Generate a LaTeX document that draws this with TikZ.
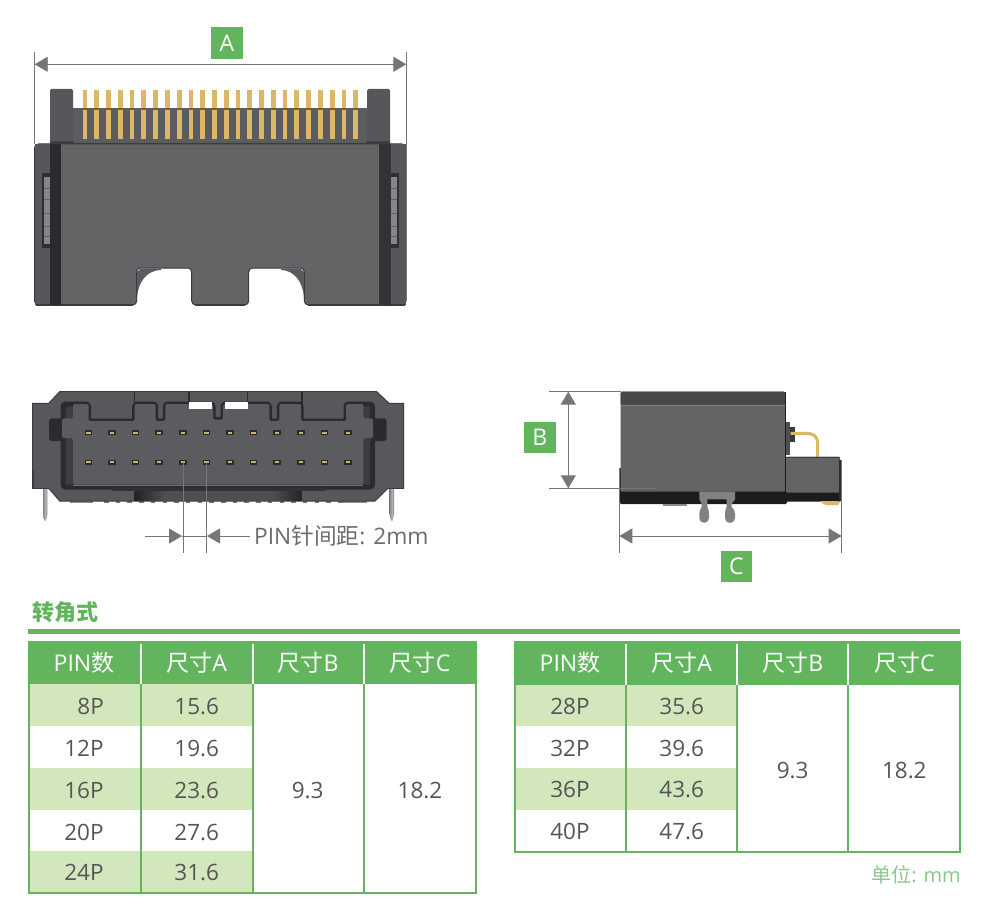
\documentclass[tikz,border=0pt]{standalone}
\usepackage{fontspec}
\usetikzlibrary{arrows.meta}
\setmainfont{Open Sans}
\newfontfamily\cj{Noto Sans CJK SC}
\definecolor{gr}{HTML}{62B55D}
\definecolor{lgr}{HTML}{D3E7BC}
\definecolor{txt}{HTML}{555555}
\definecolor{dimc}{HTML}{767676}
\definecolor{gold}{HTML}{DDB768}
\definecolor{bodyc}{HTML}{626466}
\definecolor{sidec}{HTML}{56575A}
\definecolor{frontc}{HTML}{57585B}
\definecolor{floorc}{HTML}{5A5C5F}
\definecolor{darkc}{HTML}{2A2B2D}
\definecolor{edgec}{HTML}{3A3B3D}
\definecolor{blackc}{HTML}{1C1C1D}
\definecolor{cbrown}{HTML}{7A5F28}
\definecolor{cnotch}{HTML}{5A5B5E}
\definecolor{cstripeL}{HTML}{2B2B2D}
\definecolor{cstripeR}{HTML}{333335}
\definecolor{cframe}{HTML}{2E2F31}
\definecolor{cwin}{HTML}{85868A}
\definecolor{cwinl}{HTML}{606164}
\definecolor{cleg}{HTML}{808183}
\definecolor{clegm}{HTML}{B4B5B7}
\definecolor{cclipl}{HTML}{8A8B8D}
\definecolor{ctick}{HTML}{77787A}
\definecolor{cpad}{HTML}{2C2A26}
\definecolor{cpadin}{HTML}{C8B078}
\definecolor{cstrip}{HTML}{3C3D40}
\definecolor{cfloorl}{HTML}{707174}
\definecolor{cband}{HTML}{303133}
\definecolor{ctwo}{HTML}{222324}
\definecolor{cfour}{HTML}{4E4F52}
\definecolor{ctext}{HTML}{6C6C6C}
\definecolor{cthree}{HTML}{3A3A3C}
\definecolor{cfourseven}{HTML}{47484A}
\definecolor{cseven}{HTML}{7F8082}
\definecolor{cthreee}{HTML}{3E3F41}
\definecolor{ceight}{HTML}{808183}
\definecolor{cunit}{HTML}{8CC68A}
\tikzset{
  dimline/.style={draw=dimc,line width=0.9pt},
  dimboth/.style={dimline,{Triangle[length=13pt,width=15pt,color=dimc]}-{Triangle[length=13pt,width=15pt,color=dimc]}},
  dimto/.style={dimline,-{Triangle[length=13pt,width=15pt,color=dimc]}},
  tagbox/.style={fill=gr,text=white,minimum width=31.5pt,minimum height=31.5pt,inner sep=0pt,font=\fontsize{23}{24}\selectfont},
  cell/.style={anchor=base,inner sep=0pt,text=txt,font=\fontsize{22.5}{24}\selectfont},
  headcell/.style={anchor=base,inner sep=0pt,text=white,font=\fontsize{23}{24}\selectfont},
  tline/.style={draw=gr,line width=2pt},
}
\begin{document}
\begin{tikzpicture}[x=1pt,y=-1pt]
\useasboundingbox (0,0) rectangle (981,917);
% ------------------- top view
\fill[sidec,rounded corners=1.5pt] (50,144) -- (50,89) -- (73,89) -- (73,146) -- cycle;
\fill[sidec,rounded corners=1.5pt] (367,146) -- (367,89) -- (390,89) -- (390,144) -- cycle;
\fill[floorc] (73,108.5) rectangle (367,144);
\fill[edgec] (50,141.5) -- (73,141.5) -- (76,144) -- (50,144) -- cycle;
\fill[edgec] (390,141.5) -- (367,141.5) -- (364,144) -- (390,144) -- cycle;
\foreach \i in {0,...,23}{
  \pgfmathsetmacro\px{82.6+11.77*\i}
  \fill[gold] (\px,90.5) rectangle ++(4.8,48.5);
  \fill[cbrown] (\px,108) rectangle ++(4.8,2.2);
}
\fill[edgec] (73,142.6) rectangle (367,144);
\path[fill=bodyc,draw=edgec,line width=1pt,rounded corners=4pt]
  (34.5,144) -- (406,144) -- (406,305) -- (304.3,305) -- (304.3,268) -- (248.7,268) -- (248.7,305)
  -- (191.7,305) -- (191.7,268) -- (136.7,268) -- (136.7,305) -- (34.5,305) -- cycle;
\fill[sidec] (35,144.5) rectangle (50,304.5);
\fill[sidec] (391,144.5) rectangle (405.5,304.5);
\fill[cnotch] (137.2,297) .. controls (138,281) and (148,270) .. (161,270) -- (161,268.5) -- (141,268.5) -- (137.2,272) -- cycle;
\fill[cnotch] (303.8,297) .. controls (303,281) and (293,270) .. (281,270) -- (281,268.5) -- (300,268.5) -- (303.8,272) -- cycle;
\draw[edgec,line width=1.2pt] (36,305) -- (133,305) (195,305) -- (245,305) (308,305) -- (405,305);
\fill[cstripeL] (50,144) rectangle (61.3,305.4);
\fill[cstripeR] (379.3,144) rectangle (390.7,305.4);
\fill[cframe] (41.7,172.7) rectangle (50,248);
\fill[cframe] (390.7,172.7) rectangle (399.3,248);
\fill[cwin] (44.3,177) rectangle (50,244);
\fill[cwin] (391,177) rectangle (396.8,244);
\foreach \wy in {188,199,213,226,236}{
  \fill[cwinl] (44.3,\wy) rectangle (50,\wy+1);
  \fill[cwinl] (391,\wy) rectangle (396.8,\wy+1);
}
% dimension A
\coordinate (aL) at (34.7,64.3); \coordinate (aR) at (406.3,64.3);
\coordinate (aLt) at (34.7,52); \coordinate (aLb) at (34.7,144);
\coordinate (aRt) at (406.3,52); \coordinate (aRb) at (406.3,177);
\draw[dimline] (aLt) -- (aLb);
\draw[dimline] (aRt) -- (aRb);
\draw[dimboth] (aL) -- (aR);
\node[tagbox] (tagA) at (226.9,43.2) {A};
% ------------------- front view
\foreach \lx/\lw in {43/4.4,389.6/4.4}{
  \shade[left color=cleg,right color=cleg,middle color=clegm] (\lx,488) -- (\lx,514) -- (\lx+\lw/2-0.9,520.5) -- (\lx+\lw/2+0.9,520.5) -- (\lx+\lw,514) -- (\lx+\lw,488) -- cycle;
}
\fill[cclipl] (69.7,500) rectangle (93,503);
\fill[cclipl] (343,500) rectangle (367,503);
\foreach \i in {0,...,20}{
  \fill[ctick] (104+11.7*\i,500) rectangle ++(4.5,2.6);
}
\path[fill=frontc,draw=edgec,line width=1pt]
  (32.5,403.3) -- (48.7,403.3) -- (59.7,391.7) -- (376.7,391.7) -- (389,403.3) -- (403.5,403.3)
  -- (403.5,488.3) -- (388,488.3) -- (375,501) -- (59.7,501) -- (48.7,488.3) -- (32.5,488.3) -- cycle;
\fill[edgec] (32,470) rectangle (33.6,488.8);
% cavity
\fill[darkc,rounded corners=3pt] (49,418.3) rectangle (70,441);
\fill[darkc,rounded corners=3pt] (368,418.3) rectangle (386.7,441);
\path[fill=cstrip,draw=darkc,line width=5pt,line join=round,rounded corners=2.5pt]
  (63,404) -- (88.5,404) -- (88.5,421) -- (134.7,421) -- (134.7,404) -- (155.7,404) -- (155.7,421)
  -- (165.3,421) -- (165.3,404) -- (213,404) -- (213,419.5) -- (223,419.5) -- (223,404)
  -- (269.3,404) -- (269.3,421) -- (279.3,421) -- (279.3,404) -- (301,404) -- (301,421)
  -- (346,421) -- (346,404) -- (372.5,404) -- (372.5,487) -- (63,487) -- cycle;
\fill[floorc,rounded corners=1.5pt] (73,404) -- (88.5,404) -- (88.5,421) -- (134.7,421) -- (134.7,404) -- (155.7,404) -- (155.7,421)
  -- (165.3,421) -- (165.3,404) -- (213,404) -- (213,419.5) -- (223,419.5) -- (223,404)
  -- (269.3,404) -- (269.3,421) -- (279.3,421) -- (279.3,404) -- (301,404) -- (301,421)
  -- (346,421) -- (346,404) -- (363.3,404) -- (363.3,418.3) -- (373,418.3) -- (373,438) -- (363.3,438) -- (363.3,484.7)
  -- (73,484.7) -- (73,438) -- (62,438) -- (62,418.3) -- (73,418.3) -- cycle;
\fill[cfloorl] (73,484.7) rectangle (363.3,486);
\draw[darkc,line width=1.5pt] (134.7,392) -- (134.7,404) (189,392) -- (189,404) (247.7,392) -- (247.7,404) (302,392) -- (302,404);
\fill[white] (189,402.3) rectangle (212.3,409);
\fill[white] (225,402.3) rectangle (247.7,409);
\fill[cband] (112,487) rectangle (325,491);
\shade[left color=ctwo,right color=cfour] (134.7,491) rectangle (165,500.4);
\fill[cfour] (165,491) rectangle (272,500.4);
\shade[left color=cfour,right color=ctwo] (272,491) rectangle (301.5,500.4);
\foreach \i in {0,...,11}{
  \pgfmathsetmacro\px{88.3+23.6*\i}
  \foreach \py in {432.7,462.3}{
    \fill[cpad] (\px-3.8,\py-2.3) rectangle (\px+3.8,\py+2.3);
    \fill[cpadin] (\px-2.2,\py-1.1) rectangle (\px+2.2,\py+1.1);
  }
}
% pitch dimension
\coordinate (p1t) at (183.3,461.7); \coordinate (p1b) at (183.3,553);
\coordinate (p2t) at (206,461.7); \coordinate (p2b) at (206,553);
\coordinate (p1s) at (145,536); \coordinate (p1e) at (182,536);
\coordinate (p2s) at (250,536); \coordinate (p2e) at (207,536);
\draw[draw=dimc,line width=0.7pt] (p1t) -- (p1b);
\draw[draw=dimc,line width=0.7pt] (p2t) -- (p2b);
\draw[dimto] (p1s) -- (p1e);
\draw[dimto] (p2s) -- (p2e);
\draw[dimline] (p1e) -- (p2e);
\node[anchor=base west,inner sep=0pt,text=ctext,font=\fontsize{22.7}{24}\selectfont] (pitch) at (254,544) {PIN{\cj 针间距}: 2mm};
% ------------------- side view
\fill[blackc,rounded corners=1.5pt] (619.5,468) -- (621,468) -- (621,491) -- (787,491) -- (787,504) -- (619.5,504) -- cycle;
\fill[blackc,rounded corners=1pt] (785,492) rectangle (841,501.7);
\fill[cclipl] (662.7,503.8) rectangle (686.7,506);
% gold lead
\fill[gold,rounded corners=2pt] (820,501) -- (839.3,501) -- (839.3,505) -- (824,505) -- cycle;
\fill[cfour] (785,422) rectangle (790,455);
\fill[cthree] (790,426.7) rectangle (795.3,441.7);
\draw[gold,line width=3pt] (790.7,433.3) -- (806,433.3) .. controls (813,433.3) and (817.7,436) .. (817.7,444) -- (817.7,457);
\fill[bodyc,rounded corners=1.2pt] (620.7,391.7) rectangle (785,491.7);
\fill[cfourseven,rounded corners=1.2pt] (620.7,391.7) -- (785,391.7) -- (785,405) -- (620.7,405) -- cycle;
\draw[cseven,line width=0.5pt] (621,405) -- (785,405);
\draw[blackc,line width=1pt] (785.2,392) -- (785.2,491);
\fill[bodyc,rounded corners=1.2pt] (786,456.7) rectangle (840,492.7);
\fill[cthreee] (786,456.7) rectangle (840,458.3);
\fill[darkc] (838.5,460) rectangle (841,501);
% clip
\fill[ceight] (699.3,491.7) -- (735,491.7) -- (735,499.3) -- (731.7,504) -- (731.7,507)
  .. controls (734,509) and (735,511) .. (735,514) -- (735,518) arc[start angle=0,end angle=180,radius=5] -- (725,514)
  .. controls (725,511) and (725.5,509) .. (726.5,507) -- (726.5,499.3) -- (707.3,499.3) -- (707.3,507)
  .. controls (708.5,509) and (709,511) .. (709,514) -- (709,518) arc[start angle=0,end angle=180,radius=4.85] -- (699.3,514)
  .. controls (699.3,511) and (700.5,509) .. (701.7,507) -- (701.7,504) -- (699.3,499.3) -- cycle;
% dimension B / C
\coordinate (bT) at (568.3,391.6); \coordinate (bB) at (568.3,488.3);
\coordinate (bTl) at (549.3,391.6); \coordinate (bTr) at (621,391.6);
\coordinate (bBl) at (549.3,488.3); \coordinate (bBr) at (656,488.3);
\draw[dimline] (bTl) -- (bTr);
\draw[dimline] (bBl) -- (bBr);
\draw[dimboth] (bT) -- (bB);
\node[tagbox] (tagB) at (539.8,437.3) {B};
\coordinate (cL) at (619.3,536); \coordinate (cR) at (841.7,536);
\coordinate (cLt) at (619.3,468); \coordinate (cLb) at (619.3,553);
\coordinate (cRt) at (841.7,460); \coordinate (cRb) at (841.7,553);
\draw[dimline] (cLt) -- (cLb);
\draw[dimline] (cRt) -- (cRb);
\draw[dimboth] (cL) -- (cR);
\node[tagbox] (tagC) at (736.4,566.3) {C};
% ------------------- title
\node[anchor=base west,inner sep=0pt,text=gr,font=\cj\bfseries\fontsize{22}{24}\selectfont] (title) at (32,620) {转角式};
\fill[gr] (28,629.3) rectangle (960,633.7);
% ------------------- table 1
\fill[gr] (29,642.3) rectangle (475.7,684.3);
\foreach \ya/\yb in {684.3/725.7,767.7/809.7,851/893.3}{\fill[lgr] (29,\ya) rectangle (252.7,\yb);}
\draw[tline] (29,642.3) rectangle (475.7,893.3);
\draw[tline] (140.7,684.3) -- (140.7,893.3) (252.7,684.3) -- (252.7,893.3) (364,684.3) -- (364,893.3);
\draw[white,line width=1.8pt] (140.7,644) -- (140.7,684.3) (252.7,644) -- (252.7,684.3) (364,644) -- (364,684.3);
\node[headcell] (h1a) at (84,671) {PIN{\cj 数}};
\node[headcell] (h1b) at (196.7,671) {{\cj 尺寸}A};
\node[headcell] (h1c) at (308,671) {{\cj 尺寸}B};
\node[headcell] (h1d) at (420,671) {{\cj 尺寸}C};
\node[cell] (t8p) at (90.7,714) {8P};
\node[cell] (t12p) at (84,756) {12P};
\node[cell] (t16p) at (84,798) {16P};
\node[cell] (t20p) at (84,840) {20P};
\node[cell] (t24p) at (84,880.5) {24P};
\node[cell] (t8a) at (196.7,714) {15.6};
\node[cell] (t12a) at (196.7,756) {19.6};
\node[cell] (t16a) at (196.7,798) {23.6};
\node[cell] (t20a) at (196.7,840) {27.6};
\node[cell] (t24a) at (196.7,880.5) {31.6};
\node[cell] (t1b) at (307.7,798) {9.3};
\node[cell] (t1c) at (420,798) {18.2};
% ------------------- table 2
\fill[gr] (514,642.3) rectangle (960,685);
\foreach \ya/\yb in {685/726,768/810}{\fill[lgr] (514,\ya) rectangle (737,\yb);}
\draw[tline] (514.5,642.3) rectangle (959.5,852.3);
\draw[tline] (626,685) -- (626,852.3) (737,685) -- (737,852.3) (848,685) -- (848,852.3);
\draw[white,line width=1.8pt] (626,644) -- (626,685) (737,644) -- (737,685) (848,644) -- (848,685);
\node[headcell] (h2a) at (570,671) {PIN{\cj 数}};
\node[headcell] (h2b) at (681.7,671) {{\cj 尺寸}A};
\node[headcell] (h2c) at (792.7,671) {{\cj 尺寸}B};
\node[headcell] (h2d) at (904.3,671) {{\cj 尺寸}C};
\node[cell] (t28p) at (570,714.3) {28P};
\node[cell] (t32p) at (570,756.3) {32P};
\node[cell] (t36p) at (570,797.6) {36P};
\node[cell] (t40p) at (570,839.6) {40P};
\node[cell] (t28a) at (681.7,714.3) {35.6};
\node[cell] (t32a) at (681.7,756.3) {39.6};
\node[cell] (t36a) at (681.7,797.6) {43.6};
\node[cell] (t40a) at (681.7,839.6) {47.6};
\node[cell] (t2b) at (792.7,778.3) {9.3};
\node[cell] (t2c) at (904.3,778.3) {18.2};
\node[anchor=base east,inner sep=0pt,text=cunit,font=\fontsize{20}{22}\selectfont] (unit) at (961,882) {{\cj 单位}: mm};
\end{tikzpicture}
\end{document}
